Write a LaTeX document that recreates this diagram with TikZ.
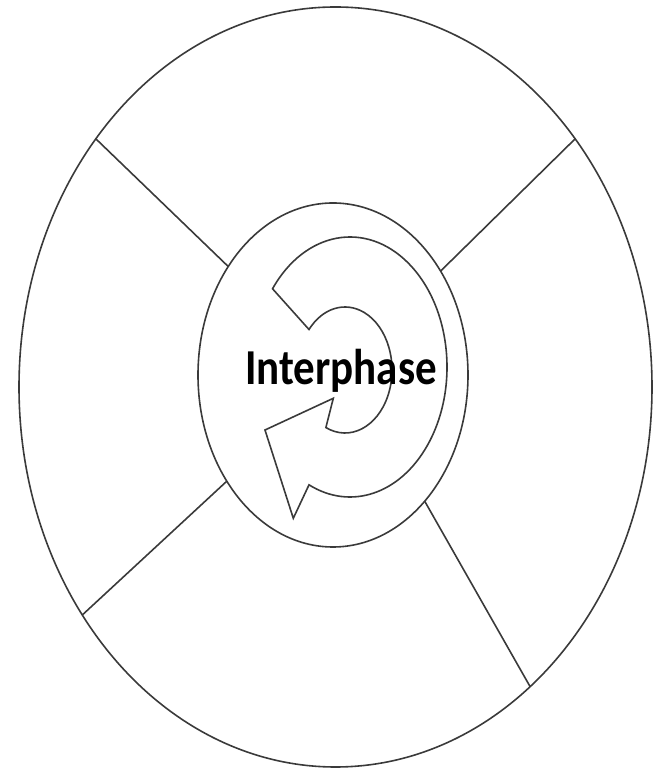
\documentclass[tikz,border=0pt]{standalone}
\usepackage{fontspec}
\setmainfont{Carlito}
\usetikzlibrary{shapes.geometric,calc}
\definecolor{ink}{HTML}{3A3A3A}
\tikzset{
  ring/.style={ellipse, draw=ink, line width=0.8pt, inner sep=0pt, outer sep=0pt},
  spoke/.style={draw=ink, line width=0.8pt},
  cyclearrow/.style={draw=ink, line width=0.8pt, line join=miter},
  title/.style={font=\bfseries\fontsize{21.5pt}{24pt}\selectfont, text=black, inner sep=0pt, anchor=base}
}
\begin{document}
\begin{tikzpicture}[x=0.5pt, y=0.5pt]
  % canvas: 657 x 771 units, y measured upwards
  \useasboundingbox (0,0) rectangle (657,771);

  % outer cell-cycle ring and inner interphase ring
  \node[ring, minimum width=316.5pt, minimum height=380pt] (outer) at (335.5,384) {};
  \node[ring, minimum width=135pt, minimum height=172pt] (inner) at (333,396) {};

  % four spokes dividing the outer band
  \draw[spoke] (outer.134) -- (inner.134.7);
  \draw[spoke] (outer.46) -- (inner.44.6);
  \draw[spoke] (outer.222.1) -- (inner.225.8);
  \draw[spoke] (outer.303.4) -- (inner.306.8);

  % circular arrow outline
  \coordinate (baseA) at (333.3,372.7);
  \coordinate (baseB) at (293.3,252.7);
  \coordinate (tip) at (265,341);
  \draw[cyclearrow]
    ($(350,404)+(143:97 and 130)$)
      arc[start angle=143, end angle=-115, x radius=97, y radius=130]
    -- (baseB) -- (tip) -- (baseA)
    -- ($(345,401)+(-114:47 and 63)$)
      arc[start angle=-114, end angle=140, x radius=47, y radius=63]
    -- cycle;

  % label
  \node[title] (label) at (341,386) {\scalebox{1}[1.17]{Interphase}};
\end{tikzpicture}
\end{document}
